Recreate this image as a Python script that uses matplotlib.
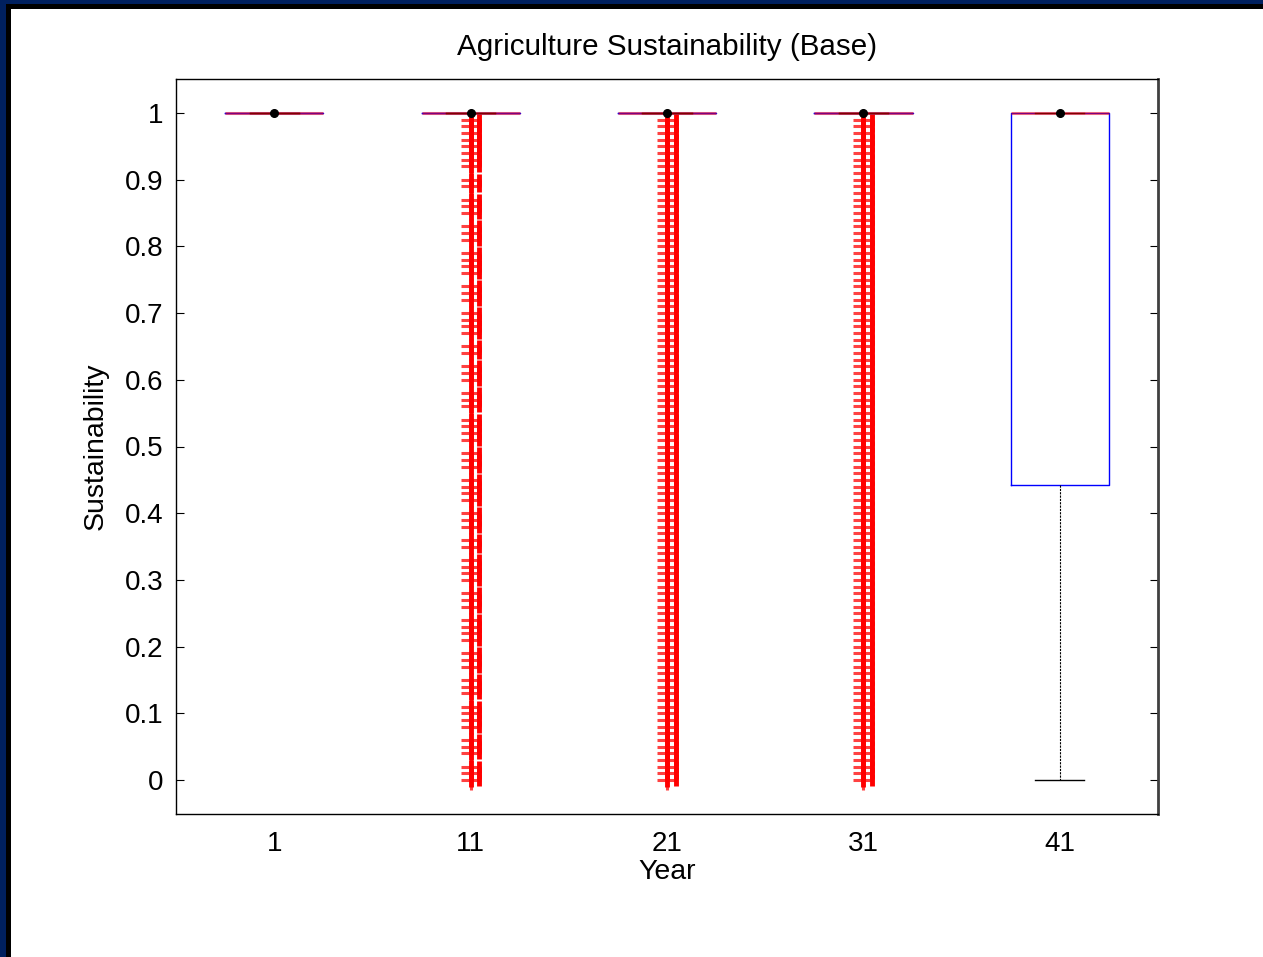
import matplotlib
matplotlib.use("Agg")
import matplotlib.pyplot as plt
from matplotlib.patches import Rectangle

plt.rcParams['font.family'] = ['Liberation Sans', 'DejaVu Sans']

# Data (box statistics per year)
years = ['1', '11', '21', '31', '41']
medians = [1.0, 1.0, 1.0, 1.0, 1.0]
q1s = [1.0, 1.0, 1.0, 1.0, 0.442]
q3s = [1.0, 1.0, 1.0, 1.0, 1.0]
whis_lo = [1.0, 1.0, 1.0, 1.0, 0.0]
whis_hi = [1.0, 1.0, 1.0, 1.0, 1.0]

# outliers (the dense red "+" columns)
outliers_1 = []
outliers_11 = [0.00, 0.01, 0.02, 0.04, 0.05, 0.06, 0.08, 0.09, 0.10, 0.11,
               0.13, 0.14, 0.15, 0.17, 0.18, 0.19, 0.21, 0.22, 0.23, 0.24,
               0.26, 0.27, 0.28, 0.30, 0.31, 0.32, 0.33, 0.35, 0.36, 0.38,
               0.39, 0.40, 0.42, 0.43, 0.44, 0.45, 0.47, 0.48, 0.49, 0.51,
               0.52, 0.53, 0.54, 0.56, 0.57, 0.58, 0.60, 0.61, 0.62, 0.64,
               0.65, 0.67, 0.68, 0.69, 0.70, 0.72, 0.73, 0.74, 0.76, 0.77,
               0.78, 0.79, 0.81, 0.82, 0.83, 0.85, 0.86, 0.87, 0.89, 0.90,
               0.92, 0.93, 0.94, 0.95, 0.96, 0.97, 0.98, 0.99]
outliers_21 = [0.00, 0.01, 0.02, 0.03, 0.04, 0.05, 0.06, 0.07, 0.08, 0.09,
               0.10, 0.11, 0.12, 0.13, 0.14, 0.15, 0.16, 0.17, 0.18, 0.19,
               0.20, 0.21, 0.22, 0.23, 0.24, 0.25, 0.26, 0.27, 0.28, 0.29,
               0.30, 0.31, 0.32, 0.33, 0.34, 0.35, 0.36, 0.37, 0.38, 0.39,
               0.40, 0.41, 0.42, 0.43, 0.44, 0.45, 0.46, 0.47, 0.48, 0.49,
               0.50, 0.51, 0.52, 0.53, 0.54, 0.55, 0.56, 0.57, 0.58, 0.59,
               0.60, 0.61, 0.62, 0.63, 0.64, 0.65, 0.66, 0.67, 0.68, 0.69,
               0.70, 0.71, 0.72, 0.73, 0.74, 0.75, 0.76, 0.77, 0.78, 0.79,
               0.80, 0.81, 0.82, 0.83, 0.84, 0.85, 0.86, 0.87, 0.88, 0.89,
               0.90, 0.91, 0.92, 0.93, 0.94, 0.95, 0.96, 0.97, 0.98, 0.99]
outliers_31 = [0.00, 0.01, 0.02, 0.03, 0.04, 0.05, 0.06, 0.07, 0.08, 0.09,
               0.10, 0.11, 0.12, 0.13, 0.14, 0.15, 0.16, 0.17, 0.18, 0.19,
               0.20, 0.21, 0.22, 0.23, 0.24, 0.25, 0.26, 0.27, 0.28, 0.29,
               0.30, 0.31, 0.32, 0.33, 0.34, 0.35, 0.36, 0.37, 0.38, 0.39,
               0.40, 0.41, 0.42, 0.43, 0.44, 0.45, 0.46, 0.47, 0.48, 0.49,
               0.50, 0.51, 0.52, 0.53, 0.54, 0.55, 0.56, 0.57, 0.58, 0.59,
               0.60, 0.61, 0.62, 0.63, 0.64, 0.65, 0.66, 0.67, 0.68, 0.69,
               0.70, 0.71, 0.72, 0.73, 0.74, 0.75, 0.76, 0.77, 0.78, 0.79,
               0.80, 0.81, 0.82, 0.83, 0.84, 0.85, 0.86, 0.87, 0.88, 0.89,
               0.90, 0.91, 0.92, 0.93, 0.94, 0.95, 0.96, 0.97, 0.98, 0.99]
outliers_41 = []
outliers = [outliers_1, outliers_11, outliers_21, outliers_31, outliers_41]

yticks = [0, 0.1, 0.2, 0.3, 0.4, 0.5, 0.6, 0.7, 0.8, 0.9, 1]
ytick_labels = ['0', '0.1', '0.2', '0.3', '0.4', '0.5', '0.6', '0.7', '0.8', '0.9', '1']


def main():
    fig = plt.figure(figsize=(12.63, 9.57), dpi=100)

    # slide frame: navy strip with black inner line on top and left
    fig.patches.append(Rectangle((0, 1 - 9 / 957), 1, 9 / 957, transform=fig.transFigure,
                                 facecolor='black', edgecolor='none', zorder=0))
    fig.patches.append(Rectangle((0, 1 - 4 / 957), 1, 4 / 957, transform=fig.transFigure,
                                 facecolor='#00205f', edgecolor='none', zorder=1))
    fig.patches.append(Rectangle((0, 0), 11 / 1263, 1, transform=fig.transFigure,
                                 facecolor='black', edgecolor='none', zorder=0))
    fig.patches.append(Rectangle((0, 0), 6 / 1263, 1, transform=fig.transFigure,
                                 facecolor='#00205f', edgecolor='none', zorder=1))

    ax = fig.add_axes([176 / 1263, 143 / 957, 982 / 1263, 735 / 957])

    positions = list(range(1, len(years) + 1))
    stats = []
    for i in range(len(years)):
        stats.append({'med': medians[i], 'q1': q1s[i], 'q3': q3s[i],
                      'whislo': whis_lo[i], 'whishi': whis_hi[i], 'fliers': []})

    ax.bxp(stats, positions=positions, widths=0.5, showfliers=False,
           boxprops=dict(color='#0000ff', linewidth=1.0),
           medianprops=dict(color='#ff0000', linewidth=2.2, alpha=0.5),
           whiskerprops=dict(color='black', linewidth=0.8, linestyle=(0, (2, 1))),
           capprops=dict(color='black', linewidth=1.0),
           capwidths=0.25, manage_ticks=False)

    # outliers as red "+" markers
    for pos, vals in zip(positions, outliers):
        if not vals:
            continue
        ax.plot([pos] * len(vals), vals, linestyle='none', marker='+',
                markersize=14, markeredgewidth=2.2, color='#ff2020', alpha=0.85,
                zorder=1)
        ax.plot([pos] * len(vals), vals, linestyle='none', marker='|',
                markersize=10, markeredgewidth=3.5, color='#ff0000', zorder=1)
        ax.plot([pos + 0.045] * len(vals), vals, linestyle='none', marker='|',
                markersize=8, markeredgewidth=3.5, color='#ff0000', zorder=1)

    # median dots
    ax.plot(positions, medians, linestyle='none', marker='o', markersize=5.5,
            color='black', zorder=4)

    ax.set_xlim(0.5, 5.5)
    ax.set_ylim(-0.051, 1.051)
    ax.set_xticks(positions)
    ax.set_xticklabels(years)
    ax.set_yticks(yticks)
    ax.set_yticklabels(ytick_labels)
    ax.tick_params(axis='x', length=0, pad=12, labelsize=20)
    ax.tick_params(axis='y', direction='in', length=6, pad=9, labelsize=20,
                   right=True, left=True)
    for s in ax.spines.values():
        s.set_linewidth(1.0)
    ax.spines['right'].set_color('#404040')
    ax.spines['right'].set_linewidth(2.0)

    ax.set_title('Agriculture Sustainability (Base)', fontsize=21.3, pad=17)
    ax.set_xlabel('Year', fontsize=20.5, labelpad=2)
    ax.set_ylabel('Sustainability', fontsize=20.5, labelpad=12)

    fig.savefig('out.png', dpi=100)
    plt.close(fig)


if __name__ == '__main__':
    main()
